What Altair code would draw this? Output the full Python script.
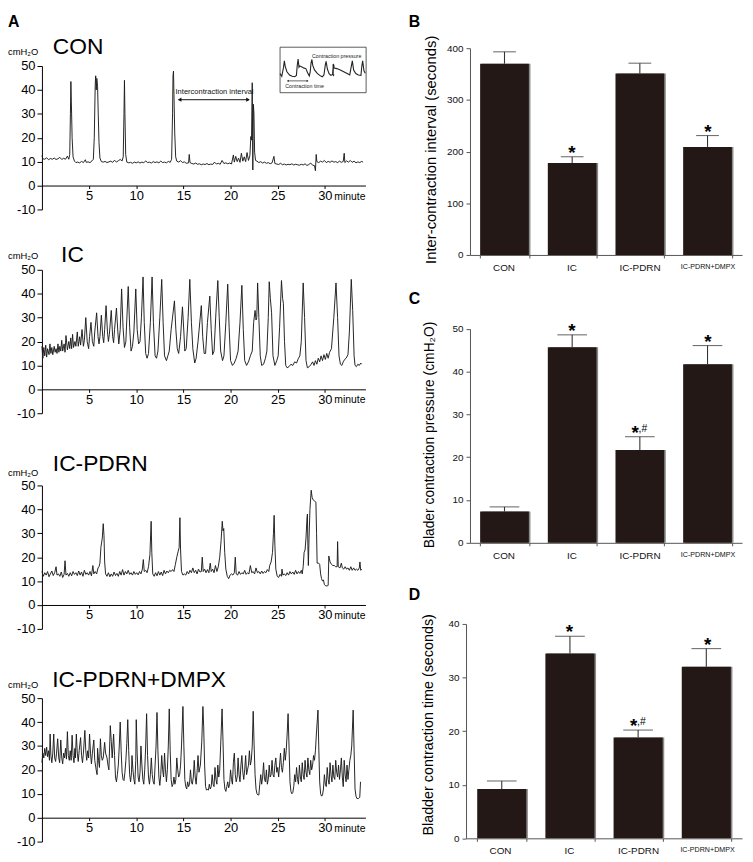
import altair as alt
import pandas as pd

FONT = "Liberation Sans"
W, H = 745, 854
M = 8  # page margin: plot pixel = reference pixel - 8

# ---------------- data: cystometry traces (minute, cmH2O) ----------------
con_trace = [
    (0.0, 12.5), (0.1, 11.2), (0.3, 11.0), (0.5, 11.6), (0.7, 10.8), (0.9, 11.3), (1.1, 11.0), (1.3, 11.5),
    (1.5, 10.9), (1.7, 11.2), (1.9, 11.8), (2.1, 10.9), (2.3, 11.4), (2.5, 11.0), (2.7, 12.3), (2.85, 11.0),
    (2.95, 13), (3.02, 30), (3.07, 43.5), (3.12, 35), (3.2, 20), (3.3, 12), (3.45, 10.2), (3.6, 9.6),
    (3.8, 9.8), (4.0, 9.5), (4.2, 10.1), (4.4, 9.6), (4.6, 10.8), (4.7, 9.7), (4.9, 9.9), (5.1, 9.6),
    (5.3, 10.3), (5.45, 11), (5.55, 20), (5.65, 42), (5.7, 45.9), (5.76, 40), (5.82, 44.8), (5.9, 41.5),
    (5.97, 30), (6.05, 18), (6.15, 11.5), (6.3, 10.0), (6.5, 9.8), (6.7, 10.1), (6.9, 9.6), (7.1, 9.9),
    (7.3, 10.2), (7.5, 9.7), (7.7, 10.6), (7.9, 9.8), (8.1, 10.4), (8.3, 10.9), (8.5, 10.3), (8.62, 12),
    (8.7, 30), (8.75, 44), (8.8, 30), (8.88, 13), (9.0, 9.8), (9.2, 9.5), (9.4, 9.7), (9.6, 9.3),
    (9.8, 9.8), (10.0, 9.5), (10.2, 9.9), (10.4, 9.4), (10.6, 9.8), (10.8, 9.5), (11.0, 10.3), (11.2, 9.6),
    (11.4, 9.8), (11.6, 9.4), (11.8, 10.0), (12.0, 9.6), (12.2, 9.9), (12.4, 9.5), (12.6, 10.2), (12.8, 9.6),
    (13.0, 9.8), (13.2, 9.5), (13.4, 10.1), (13.6, 9.7), (13.75, 11), (13.85, 30), (13.9, 46), (13.95, 47.9),
    (14.0, 38), (14.08, 22), (14.18, 12), (14.3, 10.2), (14.5, 9.8), (14.7, 10.4), (14.9, 9.6), (15.1, 9.9),
    (15.3, 9.3), (15.55, 9.5), (15.62, 13), (15.7, 9.6), (15.9, 9.2), (16.1, 9.0), (16.3, 9.4), (16.5, 8.9),
    (16.7, 9.1), (16.9, 8.7), (17.1, 9.0), (17.3, 8.8), (17.5, 9.2), (17.7, 8.7), (17.9, 9.0), (18.1, 8.8),
    (18.3, 9.8), (18.5, 9.0), (18.7, 9.3), (18.9, 8.9), (19.1, 10.5), (19.3, 9.2), (19.5, 9.5), (19.7, 9.1),
    (19.9, 9.4), (20.1, 9.0), (20.3, 12.8), (20.4, 9.8), (20.55, 12.2), (20.7, 10.0), (20.85, 11.5), (21.0, 9.7),
    (21.15, 13.5), (21.3, 10.2), (21.45, 12.0), (21.6, 10.0), (21.75, 13.8), (21.9, 10.5), (22.05, 12.5),
    (22.15, 20.5), (22.22, 19), (22.3, 43), (22.36, 6.5), (22.42, 34), (22.48, 30), (22.55, 14), (22.65, 10.5),
    (22.8, 10.2), (23.0, 9.6), (23.2, 10.0), (23.4, 9.4), (23.6, 9.8), (23.8, 9.3), (24.0, 9.6), (24.2, 9.1),
    (24.4, 9.5), (24.6, 12.2), (24.7, 9.2), (24.9, 9.0), (25.1, 8.8), (25.3, 9.3), (25.5, 8.7), (25.7, 9.0),
    (25.9, 8.6), (26.1, 8.9), (26.3, 8.7), (26.5, 9.1), (26.7, 8.6), (26.9, 8.9), (27.1, 8.7), (27.3, 8.5),
    (27.5, 8.9), (27.7, 8.6), (27.9, 9.1), (28.1, 8.4), (28.3, 8.8), (28.5, 9.4), (28.7, 8.5), (28.9, 8.3),
    (29.0, 6.2), (29.08, 13.0), (29.15, 10.0), (29.35, 9.6), (29.55, 10.2), (29.75, 9.8), (29.95, 10.5),
    (30.15, 9.6), (30.35, 10.1), (30.55, 9.7), (30.75, 10.3), (30.95, 9.8), (31.15, 10.0), (31.35, 9.6),
    (31.55, 10.2), (31.75, 9.7), (31.95, 10.1), (32.05, 13.5), (32.12, 9.6), (32.3, 10.3), (32.5, 9.8),
    (32.7, 10.5), (32.9, 9.7), (33.1, 10.2), (33.3, 9.5), (33.5, 9.9), (33.7, 9.6), (33.9, 10.1), (34.05, 9.8),
]

ic_trace = [
    (0.0, 18), (0.1, 13), (0.2, 17.5), (0.3, 14), (0.4, 18.5), (0.5, 13.5), (0.6, 17), (0.75, 14.5),
    (0.85, 19), (0.95, 15), (1.05, 17.5), (1.15, 14.5), (1.3, 18), (1.4, 15.5), (1.5, 17), (1.6, 15),
    (1.7, 19), (1.8, 15.5), (1.9, 18), (2.0, 16), (2.1, 20.5), (2.2, 16), (2.35, 19), (2.45, 15.5),
    (2.55, 22.5), (2.7, 16.5), (2.85, 20), (2.95, 17), (3.05, 21.5), (3.15, 17), (3.25, 23), (3.35, 17.5),
    (3.5, 20), (3.6, 18), (3.75, 24), (3.85, 18), (4.0, 22), (4.1, 18.5), (4.25, 25), (4.4, 18),
    (4.5, 20.5), (4.65, 30), (4.8, 20), (4.95, 17), (5.05, 22), (5.2, 28), (5.35, 20), (5.5, 18),
    (5.6, 24), (5.8, 32), (5.95, 22), (6.05, 19), (6.15, 22), (6.3, 31), (6.45, 22), (6.55, 19.5),
    (6.65, 25), (6.8, 35), (6.95, 24), (7.05, 20), (7.15, 23), (7.35, 33), (7.5, 22), (7.6, 19.5),
    (7.7, 25), (7.9, 34), (8.05, 24), (8.15, 19), (8.3, 25), (8.45, 42), (8.6, 26), (8.75, 17.5),
    (8.9, 20), (9.15, 43), (9.3, 26), (9.45, 16), (9.6, 18), (9.75, 24), (9.95, 42), (10.1, 25),
    (10.25, 19), (10.4, 20), (10.55, 30), (10.72, 47), (10.85, 28), (11.0, 15), (11.15, 13), (11.3, 15),
    (11.5, 28), (11.68, 47), (11.82, 28), (12.0, 14), (12.15, 13), (12.3, 16), (12.5, 30), (12.7, 46),
    (12.85, 28), (13.0, 14), (13.2, 12), (13.35, 14), (13.5, 16), (13.7, 25), (14.05, 37), (14.2, 25),
    (14.35, 17), (14.5, 15), (14.7, 22), (14.9, 34.5), (15.05, 24), (15.15, 16), (15.3, 17), (15.5, 30),
    (15.68, 46), (15.85, 28), (16.0, 17), (16.2, 11), (16.35, 13), (16.55, 20), (16.9, 35), (17.05, 22),
    (17.2, 15), (17.35, 15), (17.55, 28), (17.8, 39), (17.95, 25), (18.1, 14.5), (18.25, 16), (18.45, 32),
    (18.65, 45.5), (18.8, 30), (18.95, 16), (19.15, 12), (19.3, 14), (19.5, 28), (19.7, 44), (19.85, 26),
    (20.0, 12), (20.2, 10), (20.4, 11), (20.6, 13), (20.8, 16), (21.0, 28), (21.2, 43.5), (21.35, 25),
    (21.5, 12), (21.7, 10), (21.9, 11.5), (22.1, 14), (22.3, 16), (22.45, 28), (22.6, 33), (22.7, 29),
    (22.78, 30), (22.87, 44.5), (23.0, 30), (23.15, 14), (23.3, 10), (23.5, 10.5), (23.7, 13), (23.85, 16),
    (24.0, 30), (24.1, 45), (24.22, 38), (24.35, 32), (24.5, 14), (24.7, 10), (24.9, 12), (25.05, 14),
    (25.2, 26), (25.4, 45.5), (25.52, 38), (25.6, 36), (25.72, 20), (25.85, 10), (26.0, 9), (26.2, 9.5),
    (26.4, 10.5), (26.6, 10), (26.8, 11.5), (27.0, 11), (27.2, 13), (27.35, 14), (27.5, 20), (27.7, 44.5),
    (27.85, 30), (28.0, 12), (28.15, 9), (28.35, 9.5), (28.55, 10.5), (28.7, 11.5), (28.85, 10), (29.0, 12),
    (29.15, 10.5), (29.3, 13), (29.45, 11.5), (29.6, 14), (29.75, 12), (29.9, 14.5), (30.05, 12.5),
    (30.2, 15), (30.35, 13), (30.5, 15.5), (30.7, 17), (30.95, 30), (31.18, 44.5), (31.35, 30), (31.5, 14),
    (31.65, 10.5), (31.8, 10), (31.95, 11.5), (32.1, 12.5), (32.25, 13), (32.45, 14.5), (32.6, 24),
    (32.8, 46), (32.95, 33), (33.1, 14), (33.2, 10), (33.35, 9.5), (33.5, 10.5), (33.65, 10), (33.8, 11),
    (33.9, 10.5),
]

pdrn_trace = [
    (0.0, 14), (0.15, 12), (0.3, 13.5), (0.45, 12.5), (0.6, 14), (0.75, 11.8), (0.9, 13), (1.05, 14.2),
    (1.2, 12.3), (1.35, 13.5), (1.5, 16), (1.6, 12.5), (1.75, 13), (1.9, 12), (2.05, 13.8), (2.2, 11.5),
    (2.35, 12.8), (2.45, 18.5), (2.55, 12.5), (2.7, 13.2), (2.85, 12), (3.0, 13.5), (3.15, 12.2), (3.3, 14),
    (3.45, 12.8), (3.6, 13.5), (3.75, 12.3), (3.9, 14.2), (4.05, 12.5), (4.2, 13.8), (4.35, 12), (4.5, 14.5),
    (4.65, 12.8), (4.8, 13.5), (4.95, 12.5), (5.1, 14), (5.25, 12.2), (5.4, 16.5), (5.5, 13), (5.65, 14),
    (5.8, 13), (5.95, 15.5), (6.05, 16), (6.15, 17.5), (6.25, 24), (6.4, 28), (6.5, 34), (6.58, 29),
    (6.65, 18), (6.75, 13), (6.9, 12), (7.05, 13.5), (7.2, 11.8), (7.35, 13), (7.5, 12), (7.65, 13.8),
    (7.8, 12.3), (7.95, 13.2), (8.1, 12), (8.25, 14), (8.4, 12.5), (8.55, 14.8), (8.7, 12.5), (8.85, 14),
    (9.0, 13), (9.15, 14.5), (9.3, 12.8), (9.45, 13.5), (9.6, 12.5), (9.75, 14), (9.9, 12.8), (10.05, 13.5),
    (10.2, 12.6), (10.35, 14), (10.5, 13), (10.65, 15), (10.75, 19), (10.85, 14), (11.0, 14.5), (11.15, 13.5),
    (11.3, 16), (11.45, 21), (11.58, 35), (11.65, 22), (11.75, 13), (11.9, 12), (12.05, 13.5), (12.2, 12.2),
    (12.35, 14), (12.5, 12.5), (12.65, 13.8), (12.8, 12.3), (12.95, 14.5), (13.1, 13), (13.25, 14.2),
    (13.4, 13.5), (13.55, 14.5), (13.7, 14), (13.85, 14.8), (14.0, 14), (14.15, 17), (14.3, 20), (14.45, 22.5),
    (14.55, 24), (14.63, 36.5), (14.7, 23), (14.8, 14), (14.95, 12.5), (15.1, 13), (15.25, 12.5), (15.4, 14),
    (15.55, 13), (15.7, 14.5), (15.85, 13.5), (16.0, 15.5), (16.15, 13.5), (16.3, 14.5), (16.45, 13),
    (16.6, 15), (16.75, 13.8), (16.9, 14), (17.0, 20), (17.1, 14), (17.25, 15), (17.4, 13.5), (17.55, 14.8),
    (17.7, 13.5), (17.85, 17.5), (17.95, 14), (18.1, 15), (18.25, 13.5), (18.4, 16.5), (18.55, 14), (18.7, 16),
    (18.85, 20), (19.0, 27), (19.12, 35), (19.2, 31), (19.28, 32), (19.38, 22), (19.5, 15), (19.65, 12),
    (19.8, 11), (19.95, 12.5), (20.1, 13), (20.25, 12.5), (20.4, 13.5), (20.5, 20), (20.6, 13), (20.75, 12.5),
    (20.9, 14), (21.05, 12.8), (21.2, 13.5), (21.35, 13), (21.5, 14.5), (21.65, 12.8), (21.8, 13.5),
    (21.95, 13), (22.1, 16.5), (22.25, 13.5), (22.4, 14), (22.55, 13), (22.7, 15.5), (22.85, 13.5), (23.0, 14),
    (23.15, 13), (23.3, 14.2), (23.45, 13.2), (23.6, 14), (23.75, 13.5), (23.9, 14.8), (24.05, 14),
    (24.15, 16.5), (24.3, 18), (24.45, 22), (24.55, 30), (24.62, 37.5), (24.7, 25), (24.8, 15), (24.95, 12),
    (25.1, 11.5), (25.25, 12.8), (25.4, 12), (25.45, 15), (25.55, 12.5), (25.7, 13), (25.85, 12.3),
    (26.0, 13.5), (26.15, 12.5), (26.3, 14), (26.45, 13), (26.6, 13.8), (26.75, 12.8), (26.9, 14.5),
    (27.05, 13), (27.2, 14), (27.35, 13.2), (27.5, 14.5), (27.6, 13), (27.7, 16), (27.8, 22), (27.9, 23),
    (28.0, 28), (28.1, 36), (28.15, 38), (28.2, 25), (28.25, 16.5), (28.32, 28), (28.42, 40), (28.55, 48),
    (28.65, 45), (28.75, 44), (28.9, 43.5), (29.05, 43), (29.12, 30), (29.18, 17.5), (29.35, 17.5),
    (29.45, 17), (29.55, 13), (29.65, 11), (29.75, 10), (29.85, 10.5), (29.95, 8.5), (30.1, 8), (30.25, 8),
    (30.35, 8.2), (30.42, 20.5), (30.55, 18), (30.7, 17), (30.85, 16.5), (31.0, 16.5), (31.15, 16),
    (31.3, 16), (31.35, 26.5), (31.42, 16), (31.6, 15.5), (31.75, 17.5), (31.85, 15.5), (32.0, 15),
    (32.15, 16), (32.3, 15), (32.45, 15.5), (32.6, 14.5), (32.75, 16), (32.9, 14.5), (33.05, 15.5),
    (33.2, 14.5), (33.35, 15), (33.5, 14.5), (33.65, 15.5), (33.72, 18), (33.8, 14.5), (33.9, 15),
]

dmpx_trace = [
    (0.0, 23), (0.1, 27), (0.2, 25), (0.3, 29), (0.4, 26), (0.5, 29.5), (0.6, 25.5), (0.7, 28), (0.8, 24),
    (0.87, 35), (0.95, 26), (1.05, 23), (1.15, 27), (1.25, 35), (1.35, 25), (1.45, 23.5), (1.55, 27),
    (1.67, 33), (1.78, 25), (1.88, 23), (2.0, 32.5), (2.1, 25), (2.2, 22.5), (2.3, 27), (2.4, 25), (2.5, 29),
    (2.6, 24.5), (2.7, 36), (2.8, 26), (2.9, 24), (3.0, 28), (3.1, 24), (3.2, 34.5), (3.3, 26), (3.4, 23),
    (3.5, 29), (3.55, 25), (3.65, 35), (3.75, 27), (3.85, 23.5), (3.95, 28), (4.1, 33.5), (4.2, 26),
    (4.3, 23), (4.4, 27), (4.55, 36.5), (4.65, 28), (4.75, 24), (4.85, 28), (4.95, 25), (5.05, 35),
    (5.15, 27), (5.25, 22.5), (5.35, 27), (5.5, 32.5), (5.6, 24), (5.75, 20), (5.85, 18), (5.9, 29),
    (6.0, 24), (6.1, 21), (6.2, 33), (6.3, 26), (6.4, 24), (6.5, 25), (6.65, 31.5), (6.75, 27), (6.9, 25),
    (7.0, 22), (7.1, 20), (7.25, 38.5), (7.35, 32), (7.45, 25), (7.6, 35), (7.7, 26), (7.8, 17), (7.9, 15),
    (8.0, 18), (8.1, 22), (8.2, 30), (8.3, 40), (8.4, 28), (8.5, 19), (8.6, 16), (8.7, 15.5), (8.8, 19),
    (8.9, 24), (9.0, 31), (9.1, 41), (9.2, 28), (9.3, 18), (9.4, 15), (9.5, 19), (9.55, 26), (9.65, 20),
    (9.75, 16), (9.85, 14), (9.95, 24), (10.0, 41), (10.1, 27), (10.2, 17), (10.3, 15), (10.4, 19),
    (10.5, 30), (10.6, 22), (10.7, 16), (10.8, 14), (10.9, 20), (11.0, 30), (11.1, 43.5), (11.2, 26),
    (11.3, 17), (11.4, 14), (11.5, 18), (11.6, 25), (11.7, 18), (11.8, 15), (11.9, 14), (12.0, 22),
    (12.1, 30), (12.2, 44), (12.3, 28), (12.4, 17), (12.5, 13.5), (12.6, 18), (12.7, 26), (12.8, 20),
    (12.9, 17), (13.0, 27), (13.1, 20), (13.2, 15), (13.3, 20), (13.4, 30), (13.5, 45.5), (13.6, 28),
    (13.7, 16), (13.8, 13), (13.9, 14), (14.0, 17), (14.1, 14), (14.2, 16), (14.3, 25), (14.4, 20),
    (14.5, 17), (14.6, 18), (14.7, 22), (14.8, 30), (14.95, 46.5), (15.05, 30), (15.15, 16), (15.25, 13),
    (15.35, 12), (15.45, 15), (15.55, 13), (15.65, 14), (15.75, 20), (15.85, 15), (15.95, 14), (16.05, 17),
    (16.15, 24), (16.25, 17), (16.35, 14), (16.45, 19), (16.55, 26), (16.65, 19), (16.8, 22), (16.95, 32),
    (17.07, 46.5), (17.15, 38), (17.25, 22), (17.35, 13), (17.45, 11.5), (17.55, 12), (17.65, 11.5),
    (17.75, 14), (17.85, 12), (17.95, 13), (18.05, 18), (18.15, 14), (18.25, 13), (18.35, 21), (18.45, 16),
    (18.55, 14), (18.65, 22), (18.75, 17), (18.85, 20), (18.95, 30), (19.1, 45.5), (19.2, 32), (19.3, 16),
    (19.4, 12), (19.5, 11), (19.6, 13), (19.7, 15), (19.8, 12.5), (19.9, 14), (20.0, 20), (20.1, 16),
    (20.2, 14), (20.3, 23), (20.4, 27), (20.5, 18), (20.6, 15), (20.7, 17), (20.8, 25), (20.9, 18),
    (21.0, 15), (21.1, 22), (21.2, 26), (21.3, 19), (21.4, 16), (21.5, 20), (21.6, 26), (21.7, 18),
    (21.8, 20), (21.9, 22), (22.0, 28), (22.1, 22), (22.2, 24), (22.3, 30), (22.4, 44.5), (22.5, 30),
    (22.6, 18), (22.7, 12), (22.8, 10), (22.9, 9.5), (23.0, 9.5), (23.1, 14), (23.2, 18), (23.3, 14),
    (23.4, 17), (23.5, 23), (23.6, 16), (23.7, 15), (23.8, 20), (23.9, 14), (24.0, 16), (24.1, 22),
    (24.2, 17), (24.3, 18), (24.4, 24), (24.5, 18), (24.6, 17), (24.7, 22), (24.8, 25), (24.9, 19),
    (25.0, 21), (25.1, 17), (25.2, 22), (25.3, 27), (25.4, 21), (25.5, 19), (25.6, 23), (25.7, 29),
    (25.8, 24), (25.9, 28), (26.0, 35), (26.1, 43.5), (26.2, 30), (26.3, 15), (26.4, 11), (26.5, 10),
    (26.6, 10.5), (26.7, 13), (26.8, 18), (26.9, 15), (27.0, 21), (27.1, 16), (27.2, 14), (27.3, 22),
    (27.4, 17), (27.5, 15), (27.6, 23), (27.7, 18), (27.8, 16), (27.9, 24), (28.0, 19), (28.1, 17),
    (28.2, 25), (28.3, 20), (28.4, 18), (28.5, 24), (28.6, 20), (28.7, 22), (28.8, 26), (28.9, 24),
    (29.0, 28), (29.1, 35), (29.27, 45), (29.35, 30), (29.45, 15), (29.55, 10), (29.65, 9), (29.75, 9.5),
    (29.85, 12), (29.95, 18), (30.05, 14), (30.15, 13), (30.25, 21), (30.35, 16), (30.45, 14), (30.55, 23),
    (30.65, 18), (30.75, 15), (30.85, 22), (30.95, 17), (31.05, 16), (31.15, 24), (31.25, 19), (31.35, 17),
    (31.45, 22), (31.55, 16), (31.65, 20), (31.75, 25), (31.85, 17), (31.95, 13), (32.05, 24), (32.15, 18),
    (32.25, 15), (32.35, 22), (32.45, 16), (32.55, 20), (32.65, 24), (32.75, 26), (32.85, 30), (33.0, 45),
    (33.1, 28), (33.2, 12), (33.3, 9), (33.4, 8), (33.55, 8), (33.7, 8.5), (33.78, 15),
]

# inset waveform (relative units: x 0-100 across the box, y 0-10 bottom to top)
inset_wave = [
    (0, 4.2), (2, 3.6), (4, 5.5), (5, 7.0), (6, 5.8), (8, 4.6), (11, 3.9), (14, 3.6), (17, 3.5), (19, 3.8),
    (20, 6.0), (21, 7.4), (22, 5.6), (23, 5.9), (26, 5.6), (28, 5.4), (30, 5.3), (32, 4.4), (34, 3.7),
    (35, 4.5), (36, 6.5), (37, 7.3), (38, 6.0), (40, 5.0), (43, 4.3), (46, 3.8), (49, 3.5), (51, 3.9),
    (52.5, 6.0), (53.5, 6.9), (55, 5.2), (57, 4.2), (59, 3.8), (61, 4.0), (62, 6.3), (63, 5.4), (66, 5.3),
    (70, 5.0), (74, 4.6), (78, 4.2), (81, 3.9), (82.5, 5.5), (84, 7.0), (85.5, 5.0), (88, 4.2), (91, 3.9),
    (94, 3.8), (95, 5.8), (96, 7.0), (97.5, 4.8), (99, 4.3),
]

trace_y_ticks = [-10, 0, 10, 20, 30, 40, 50]
trace_x_ticks = [5, 10, 15, 20, 25, 30]

# ---------------- data: bar charts ----------------
groups = ["CON", "IC", "IC-PDRN", "IC-PDRN+DMPX"]
interval_mean = [370, 178, 351, 209]
interval_sem = [23, 12, 20, 22]
interval_star = ["", "*", "", "*"]
interval_hash = ["", "", "", ""]

pressure_mean = [7.3, 45.7, 21.7, 41.7]
pressure_sem = [1.1, 2.9, 3.1, 4.4]
pressure_star = ["", "*", "*", "*"]
pressure_hash = ["", "", ",#", ""]

ctime_mean = [9.2, 34.5, 18.8, 32.0]
ctime_sem = [1.5, 3.2, 1.4, 3.4]
ctime_star = ["", "*", "*", "*"]
ctime_hash = ["", "", ",#", ""]


def px(v):
    return v - M


def label(text, x, y, size, weight="normal", align="left", angle=0, baseline="alphabetic"):
    return alt.Chart(pd.DataFrame({"s": [text]})).mark_text(
        align=align, baseline=baseline, fontSize=size, fontWeight=weight, angle=angle,
        color="#000000", font=FONT,
    ).encode(x=alt.value(px(x)), y=alt.value(px(y)), text="s:N")


def trace_panel(trace, top_ref, with_extras=False):
    y_top = px(top_ref)
    y_bot = y_top + 145
    y_zero = y_top + 145 * 50 / 60

    def xs():
        return alt.Scale(domain=[0, 34.3], range=[px(42.3), px(369.3)], nice=False, zero=False)

    def ys():
        return alt.Scale(domain=[-10, 50], range=[y_bot, y_top], nice=False, zero=False)

    def X(f):
        return alt.X(f, scale=xs(), axis=None)

    def Y(f):
        return alt.Y(f, scale=ys(), axis=None)

    df = pd.DataFrame(trace, columns=["t", "p"])
    line = alt.Chart(df).mark_line(color="#1a1a1a", strokeWidth=0.95).encode(
        x=alt.X("t:Q", scale=xs(), axis=alt.Axis(
            orient="bottom", offset=y_zero - H, values=trace_x_ticks, title=None,
            labelFontSize=13, labelColor="#000", tickSize=3, labelPadding=1,
            domainColor="#000", tickColor="#000", labelFlush=False, grid=False)),
        y=alt.Y("p:Q", scale=ys(), axis=alt.Axis(
            orient="left", offset=-px(42.3), values=trace_y_ticks, title=None,
            labelExpr="datum.value", labelFontSize=13, labelColor="#000", tickSize=5, labelPadding=2,
            domainColor="#000", tickColor="#000", labelFlush=False, grid=False)),
    )
    minute = alt.Chart(pd.DataFrame({"t": [31.0], "p": [-5.9], "s": ["minute"]})).mark_text(
        align="left", baseline="alphabetic", fontSize=10.5, font=FONT, color="#000"
    ).encode(x=X("t:Q"), y=Y("p:Q"), text="s:N")
    layers = [line, minute]
    if with_extras:
        shaft = alt.Chart(pd.DataFrame({"t": [14.5], "t2": [21.95], "p": [35.9]})).mark_rule(
            color="#111", strokeWidth=1).encode(x=X("t:Q"), x2="t2:Q", y=Y("p:Q"))
        heads = alt.Chart(pd.DataFrame({"t": [14.6, 21.85], "p": [35.9, 35.9],
                                        "shape": ["triangle-left", "triangle-right"]})).mark_point(
            filled=True, size=18, color="#111", opacity=1).encode(
            x=X("t:Q"), y=Y("p:Q"), shape=alt.Shape("shape:N", scale=None))
        txt = alt.Chart(pd.DataFrame({"t": [18.3], "p": [38.4], "s": ["Intercontraction interval"]})).mark_text(
            align="center", baseline="alphabetic", fontSize=7.6, font=FONT, color="#111").encode(
            x=X("t:Q"), y=Y("p:Q"), text="s:N")
        layers += [shaft, heads, txt]
    return layers


def inset_panel():
    def X(f):
        return alt.X(f, scale=alt.Scale(domain=[0, 100], range=[px(283), px(370)], nice=False, zero=False),
                     axis=None)

    def Y(f):
        return alt.Y(f, scale=alt.Scale(domain=[0, 10], range=[px(89), px(43)], nice=False, zero=False),
                     axis=None)

    box = alt.Chart(pd.DataFrame({"x": [0], "x2": [100], "y": [0], "y2": [10]})).mark_rect(
        fillOpacity=0, stroke="#333", strokeWidth=0.8).encode(
        x=X("x:Q"), x2="x2:Q", y=Y("y:Q"), y2="y2:Q")
    wave = alt.Chart(pd.DataFrame(inset_wave, columns=["x", "y"])).mark_line(
        color="#222", strokeWidth=1.1).encode(x=X("x:Q"), y=Y("y:Q"))
    arrows = alt.Chart(pd.DataFrame({"x": [9, 62], "x2": [32, 62], "y": [2.6, 3.8], "y2": [2.6, 6.2]})).mark_rule(
        color="#222", strokeWidth=0.7).encode(x=X("x:Q"), x2="x2:Q", y=Y("y:Q"), y2="y2:Q")
    heads = alt.Chart(pd.DataFrame({"x": [9, 32, 62, 62], "y": [2.6, 2.6, 6.2, 3.8],
                                    "shape": ["triangle-left", "triangle-right", "triangle-up", "triangle-down"]})
                      ).mark_point(filled=True, size=5, color="#222", opacity=1).encode(
        x=X("x:Q"), y=Y("y:Q"), shape=alt.Shape("shape:N", scale=None))
    texts = alt.Chart(pd.DataFrame({"x": [37, 6], "y": [7.6, 1.1],
                                    "s": ["Contraction pressure", "Contraction time"]})).mark_text(
        align="left", baseline="alphabetic", fontSize=5.4, font=FONT, color="#222").encode(
        x=X("x:Q"), y=Y("y:Q"), text="s:N")
    return [box, wave, arrows, heads, texts]


def bar_panel(mean, sem, star, hsh, x_ref, y_bot_ref, y_top_ref, ymax, yticks, pad_outer, cap):
    df = pd.DataFrame({"g": groups, "m": mean, "u": [a + b for a, b in zip(mean, sem)],
                       "star": star, "hash": hsh})

    def xs():
        return alt.Scale(domain=groups, range=[px(x_ref[0]), px(x_ref[1])], paddingInner=0.28,
                         paddingOuter=pad_outer)

    def ys():
        return alt.Scale(domain=[0, ymax], range=[px(y_bot_ref), px(y_top_ref)], nice=False, zero=True)

    def Xn():
        return alt.X("g:N", scale=xs(), sort=groups, axis=None)

    def Yn(f):
        return alt.Y(f, scale=ys(), axis=None)

    base = alt.Chart(df)
    shadow = base.mark_bar(color="#8a8a8a", xOffset=1.6).encode(x=Xn(), y=Yn("m:Q"))
    bars = base.mark_bar(color="#231815").encode(
        x=alt.X("g:N", scale=xs(), sort=groups, axis=alt.Axis(
            orient="bottom", offset=px(y_bot_ref) - H, title=None, labels=False,
            tickSize=3, tickBand="extent", domainColor="#555", tickColor="#555", grid=False)),
        y=alt.Y("m:Q", scale=ys(), axis=alt.Axis(
            orient="left", offset=-px(x_ref[0]), values=yticks, title=None,
            labelFontSize=10, labelColor="#111", tickSize=4, labelPadding=3,
            domainColor="#555", tickColor="#555", grid=False)),
    )
    err = base.mark_rule(color="#333", strokeWidth=1.1).encode(x=Xn(), y=Yn("m:Q"), y2="u:Q")
    caps = base.mark_tick(orient="horizontal", size=cap, thickness=1.1, color="#333").encode(
        x=Xn(), y=Yn("u:Q"))
    star1 = base.transform_filter("datum.hash == ''").mark_text(
        fontSize=19, fontWeight="bold", baseline="alphabetic", dy=2.2, font=FONT, color="#000").encode(
        x=Xn(), y=Yn("u:Q"), text="star:N")
    star2 = base.transform_filter("datum.hash != ''").mark_text(
        fontSize=19, fontWeight="bold", baseline="alphabetic", dy=2.2, dx=-5, font=FONT, color="#000").encode(
        x=Xn(), y=Yn("u:Q"), text="star:N")
    hashes = base.transform_filter("datum.hash != ''").mark_text(
        fontSize=10.5, baseline="alphabetic", align="left", dy=-4.7, dx=-1.5, font=FONT, color="#000").encode(
        x=Xn(), y=Yn("u:Q"), text="hash:N")
    cat_labels = base.mark_text(baseline="top", font=FONT, color="#111", dy=0).encode(
        x=Xn(), y=alt.value(px(y_bot_ref) + 8),
        text="g:N",
        size=alt.condition("datum.g == 'IC-PDRN+DMPX'", alt.value(7.2), alt.value(10)),
    )
    return [shadow, bars, err, caps, star1, star2, hashes, cat_labels]


layers = []
layers += trace_panel(con_trace, 62, with_extras=True)
layers += trace_panel(ic_trace, 268)
layers += trace_panel(pdrn_trace, 486)
layers += trace_panel(dmpx_trace, 701)
layers += inset_panel()
layers += bar_panel(interval_mean, interval_sem, interval_star, interval_hash, (475, 750), 253, 44, 400,
                    [0, 100, 200, 300, 400], 0.15, 23)
layers += bar_panel(pressure_mean, pressure_sem, pressure_star, pressure_hash, (475, 750), 544, 327.7, 50,
                    [0, 10, 20, 30, 40, 50], 0.15, 30)
layers += bar_panel(ctime_mean, ctime_sem, ctime_star, ctime_hash, (471, 750), 842.7, 626, 40,
                    [0, 10, 20, 30, 40], 0.164, 30)

layers += [
    label("A", 8, 23, 16, "bold"),
    label("B", 413, 23, 16, "bold"),
    label("C", 413, 303, 16, "bold"),
    label("D", 413, 602, 16, "bold"),
    label("CON", 53.3, 50, 23),
    label("IC", 61.7, 260, 23),
    label("IC-PDRN", 53.3, 471, 23),
    label("IC-PDRN+DMPX", 52.7, 690, 23),
    label("cmH₂O", 8, 51, 9.5),
    label("cmH₂O", 8, 257, 9.5),
    label("cmH₂O", 8, 476, 9.5),
    label("cmH₂O", 8, 691, 9.5),
    label("Inter-contraction interval (seconds)", 436, 146.7, 15, align="center", angle=270, baseline="middle"),
    label("Blader contraction pressure (cmH₂O)", 435, 435, 14, align="center", angle=270, baseline="middle"),
    label("Bladder contraction time (seconds)", 434, 728, 14.5, align="center", angle=270, baseline="middle"),
]

chart = alt.layer(*layers).resolve_scale(
    x="independent", y="independent", size="independent"
).properties(
    width=W, height=H, padding=0, autosize=alt.AutoSizeParams(type="none")
).configure(
    font=FONT
).configure_view(
    stroke=None
).configure_axis(
    labelFont=FONT, titleFont=FONT, grid=False
)

chart.save("out.html", embed_options={"renderer": "svg", "actions": False})
